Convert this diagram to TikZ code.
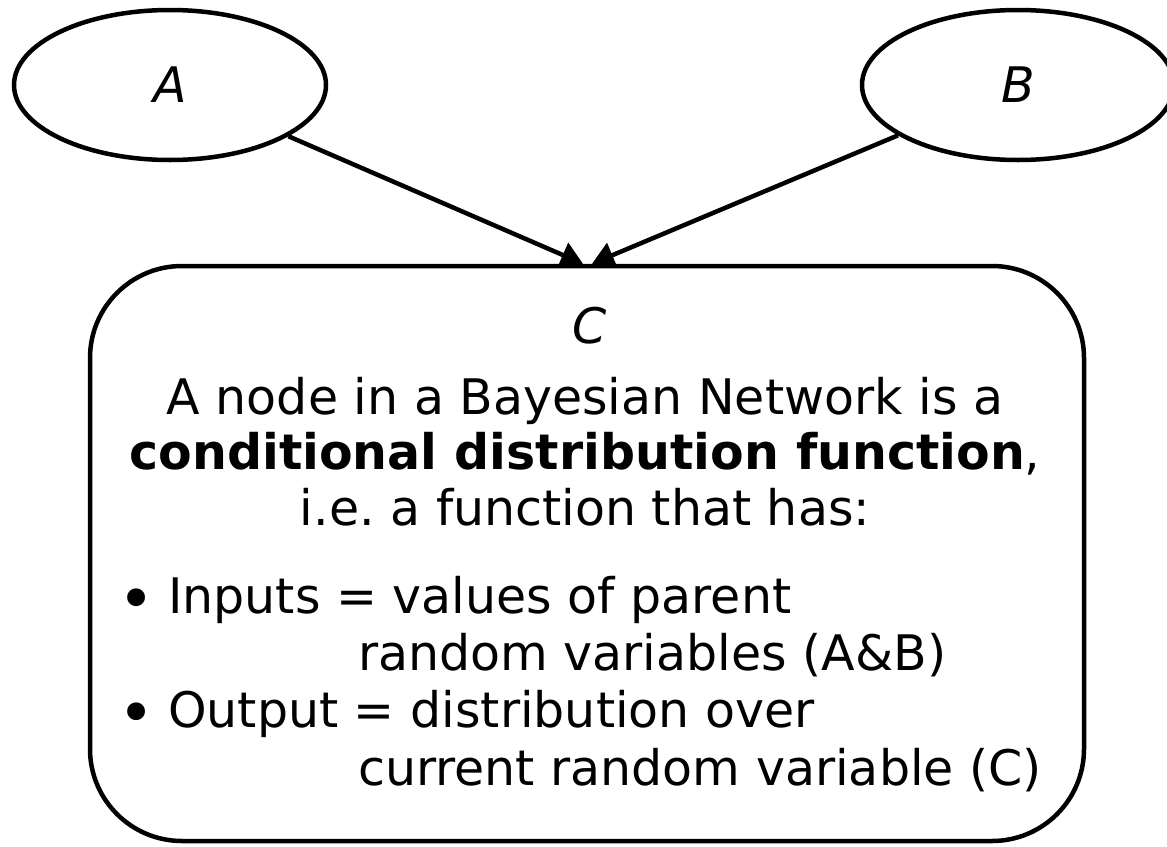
\documentclass[tikz,border=0pt]{standalone}
\usepackage{fontspec}
\setmainfont{DejaVu Sans}
\usetikzlibrary{shapes.geometric,arrows.meta}
\pgfdeclarelayer{bg}
\pgfsetlayers{bg,main}
\begin{document}
\begin{tikzpicture}[x=1pt,y=-1pt,
  line width=4.5pt,
  varnode/.style={ellipse,draw,line width=4.5pt,minimum width=312pt,minimum height=150pt,inner sep=0pt,font=\fontsize{49}{55}\selectfont\itshape},
  cpd/.style={draw,line width=4.5pt,fill=white,rounded corners=92pt,minimum width=994pt,minimum height=575pt,inner sep=0pt},
  txt/.style={inner sep=0pt,font=\fontsize{49}{55}\selectfont},
  edge/.style={line width=4.5pt,-{Triangle[length=22pt,width=26pt]}},
  bul/.style={}
]
\useasboundingbox (0,0) rectangle (1167,846);
\node[varnode] (A) at (170,85) {A};
\node[varnode] (B) at (1018,85) {B};
\node[cpd] (C) at (587,553.5) {};
\begin{pgfonlayer}{bg}
\draw[edge] (A) -- ([xshift=-4pt]C.north);
\draw[edge] (B) -- ([xshift=5pt]C.north);
\end{pgfonlayer}
\node[txt,anchor=base] (lc) at (590,343) {\itshape C};
\node[txt,anchor=base] (l1) at (585,414) {A node in a Bayesian Network is a};
\node[txt,anchor=base] (l2) at (585,469) {\textbf{conditional distribution function},};
\node[txt,anchor=base] (l3) at (585,525) {i.e.\ a function that has:};
\node[txt,anchor=base west] (l4) at (118,613) {\makebox[50pt][l]{\raisebox{-7pt}{\scalebox{1.25}{•}}}Inputs = values of parent};
\node[txt,anchor=base west] (l5) at (358,670) {random variables (A\&B)};
\node[txt,anchor=base west] (l6) at (118,727) {\makebox[50pt][l]{\raisebox{-7pt}{\scalebox{1.25}{•}}}Output = distribution over};
\node[txt,anchor=base west] (l7) at (358,785) {current random variable (C)};
\end{tikzpicture}
\end{document}
